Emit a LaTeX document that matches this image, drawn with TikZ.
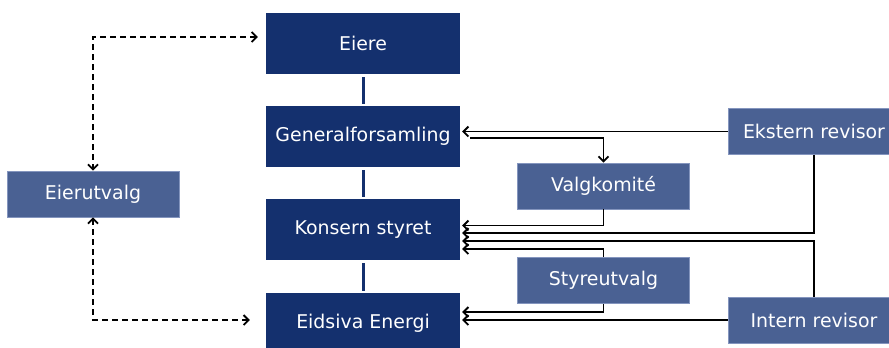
\documentclass[tikz,border=0pt]{standalone}
\usepackage{fontspec}
\setmainfont{DejaVu Sans}
\usetikzlibrary{arrows.meta,calc}
\definecolor{navy}{HTML}{14306E}
\definecolor{mid}{HTML}{4A6193}
\definecolor{midb}{HTML}{8495BE}
\begin{document}
\begin{tikzpicture}[x=1bp,y=-1bp,
  mainbox/.style={fill=navy,draw=none,minimum width=194bp,minimum height=61bp,inner sep=0pt,text=white,font=\fontsize{19}{22}\selectfont},
  subbox/.style={fill=mid,draw=midb,line width=0.8bp,minimum width=172bp,minimum height=46bp,inner sep=0pt,text=white,font=\fontsize{19}{22}\selectfont},
  link/.style={draw=navy,line width=3bp,shorten <=3bp,shorten >=2bp},
  conn/.style={draw=black,line width=1.8bp,-{Straight Barb[length=5bp,width=10bp]}},
  dconn/.style={draw=black,line width=1.8bp,dash pattern=on 6bp off 4bp,{Straight Barb[length=5bp,width=10bp]}-{Straight Barb[length=5bp,width=10bp]}}
]
\useasboundingbox (0,0) rectangle (889,347);
\clip (0,0) rectangle (889,347);
\node[mainbox] (eiere) at (363,43.5) {Eiere};
\node[mainbox] (gf) at (363,136.5) {Generalforsamling};
\node[mainbox] (ks) at (363,229.5) {Konsern styret};
\node[mainbox] (ee) at (363,323.5) {Eidsiva Energi};
\node[subbox] (eu) at (93,194) {Eierutvalg};
\node[subbox] (vk) at (603.5,186) {Valgkomité};
\node[subbox] (su) at (603.5,280.5) {Styreutvalg};
\node[subbox] (ek) at (814,131.5) {Ekstern revisor};
\node[subbox] (ir) at (814,320) {Intern revisor};

\draw[link] (eiere.south) -- (gf.north);
\draw[link] (gf.south) -- (ks.north);
\draw[link] (ks.south) -- (ee.north);

\draw[conn,shorten >=2bp] (ek.west) -- (ek.west -| gf.east);
\draw[conn] ($(gf.east)+(10,1.5)$) -| (vk.north);
\draw[conn,shorten >=2bp] (vk.south) |- ($(ks.east)+(0,-4)$);
\draw[conn,shorten >=2bp] (ek.south) |- ($(ks.east)+(0,3.5)$);
\draw[conn,shorten >=2bp] (ir.north) |- ($(ks.east)+(0,11.5)$);
\draw[conn,shorten >=2bp] (su.north) |- ($(ks.east)+(0,19.5)$);
\draw[conn,shorten >=2bp] (su.south) |- ($(ee.east)+(0,-11.5)$);
\draw[conn,shorten >=2bp] (ir.west) -- (ir.west -| ee.east);

\draw[dconn] ($(eiere.west)+(-8,-6.5)$) -| (eu.north);
\draw[dconn] ($(ee.west)+(-16,-3.5)$) -| (eu.south);
\end{tikzpicture}
\end{document}
